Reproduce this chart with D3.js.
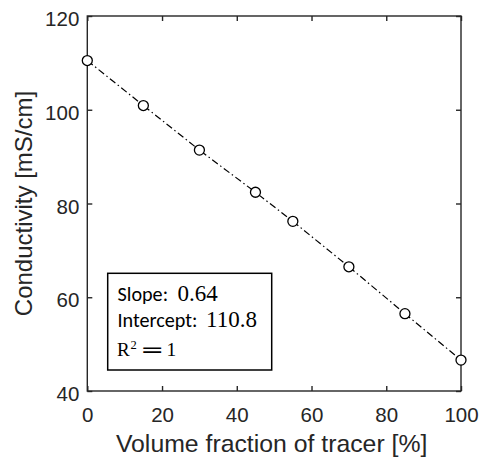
<!DOCTYPE html>
<html><head><meta charset="utf-8">
<script src="https://cdn.jsdelivr.net/npm/d3@7"></script>
<style>body{margin:0;background:#fff;} svg{display:block;}</style>
</head><body>
<script>
const volumeFraction = [0, 15, 30, 45, 55, 70, 85, 100];
const conductivity = [110.5, 100.9, 91.4, 82.4, 76.2, 66.5, 56.5, 46.6];
const xTicks = [0, 20, 40, 60, 80, 100];
const yTicks = [40, 60, 80, 100, 120];
const xLabel = "Volume fraction of tracer [%]";
const yLabel = "Conductivity [mS/cm]";
const fitSlope = "0.64", fitIntercept = "110.8", fitR2 = "1";

const W = 479, H = 460;
const m = {left: 87.3, right: 461, top: 16, bottom: 391};
const svg = d3.select("body").append("svg").attr("width", W).attr("height", H);
const x = d3.scaleLinear().domain([0, 100]).range([m.left, m.right]);
const y = d3.scaleLinear().domain([40, 120]).range([m.bottom, m.top]);
const axisColor = "#262626";
const tickFont = "'Liberation Sans', Arial, sans-serif";

svg.append("rect").attr("x", m.left).attr("y", m.top)
  .attr("width", m.right - m.left).attr("height", m.bottom - m.top)
  .attr("fill", "none").attr("stroke", axisColor).attr("stroke-width", 1.4);

function styleAxis(g){
  g.select(".domain").remove();
  g.selectAll(".tick line").attr("stroke", axisColor).attr("stroke-width", 1.4);
  g.selectAll(".tick text").attr("fill", axisColor).attr("font-family", tickFont).attr("font-size", 20.5);
}
const tl = 5;
svg.append("g").attr("transform", `translate(0,${m.bottom})`)
  .call(d3.axisBottom(x).tickValues(xTicks).tickSizeInner(-tl).tickSizeOuter(0).tickPadding(16))
  .call(styleAxis);
svg.append("g").attr("transform", `translate(0,${m.top})`)
  .call(d3.axisTop(x).tickValues(xTicks).tickSizeInner(-tl).tickSizeOuter(0).tickFormat(""))
  .call(styleAxis);
svg.append("g").attr("transform", `translate(${m.left},0)`)
  .call(d3.axisLeft(y).tickValues(yTicks).tickSizeInner(-tl).tickSizeOuter(0).tickPadding(8))
  .call(styleAxis)
  .call(g => g.selectAll(".tick text").attr("dy", "0.47em"));
svg.append("g").attr("transform", `translate(${m.right},0)`)
  .call(d3.axisRight(y).tickValues(yTicks).tickSizeInner(-tl).tickSizeOuter(0).tickFormat(""))
  .call(styleAxis);

svg.append("text").attr("x", (m.left + m.right) / 2 - 2.5).attr("y", 452)
  .attr("text-anchor", "middle").attr("font-family", tickFont).attr("font-size", 24.8)
  .attr("fill", axisColor).text(xLabel);
svg.append("text").attr("transform", `translate(32,${(m.top + m.bottom) / 2}) rotate(-90)`)
  .attr("text-anchor", "middle").attr("font-family", tickFont).attr("font-size", 24)
  .attr("fill", axisColor).text(yLabel);

const data = volumeFraction.map((v, i) => ({x: v, y: conductivity[i]}));
svg.append("path").datum(data)
  .attr("d", d3.line().x(d => x(d.x)).y(d => y(d.y)))
  .attr("fill", "none").attr("stroke", "#000").attr("stroke-width", 1.2)
  .attr("stroke-dasharray", "7,3,1.5,3");
svg.selectAll("circle.pt").data(data).enter().append("circle")
  .attr("class", "pt").attr("cx", d => x(d.x)).attr("cy", d => y(d.y)).attr("r", 5)
  .attr("fill", "#fff").attr("stroke", "#000").attr("stroke-width", 1.3);

// annotation box
svg.append("rect").attr("x", 107.7).attr("y", 273.3).attr("width", 164).attr("height", 96.7)
  .attr("fill", "#fff").attr("stroke", "#000").attr("stroke-width", 1.5);
const sansF = "Carlito, Lato, 'Open Sans', sans-serif";
const serifF = "'Liberation Serif', 'DejaVu Serif', serif";
const tx = 117.5;
const sW1 = svg.append("text").attr("x", tx).attr("y", 300.7).attr("font-family", sansF).attr("font-size", 20).attr("fill", "#000").text("Slope:");
const sW2 = svg.append("text").attr("x", tx).attr("y", 326.7).attr("font-family", sansF).attr("font-size", 20).attr("fill", "#000").text("Intercept:");
const len = sW2.node().getComputedTextLength();
const fs = Math.max(14, Math.min(24, 20 * 80 / len));
sW1.attr("font-size", fs); sW2.attr("font-size", fs);
const n1 = svg.append("text").attr("x", 177.5).attr("y", 300.7).attr("font-family", serifF).attr("font-size", 22).attr("fill", "#000").text(fitSlope);
const n2 = svg.append("text").attr("x", 206).attr("y", 326.7).attr("font-family", serifF).attr("font-size", 22).attr("fill", "#000").text(fitIntercept);
// fit numeric widths to reference (0.64 ≈ 41px, 110.8 ≈ 51px)
const l2 = n2.node().getComputedTextLength();
const ns = Math.max(16, Math.min(26, 22 * 51 / l2));
n1.attr("font-size", ns); n2.attr("font-size", ns);
// R^2 = 1
svg.append("text").attr("x", 117).attr("y", 355.7).attr("font-size", 19).attr("fill", "#000").attr("font-family", serifF).text("R");
svg.append("text").attr("x", 130.5).attr("y", 349.2).attr("font-size", 12.5).attr("fill", "#000").attr("font-family", serifF).text("2");
svg.append("text").attr("transform", "translate(140.3,356) scale(1.5,1)")
  .attr("font-family", "'DejaVu Sans', sans-serif").attr("font-size", 19).attr("fill", "#000").text("=");
svg.append("text").attr("x", 166.5).attr("y", 355.7).attr("font-family", serifF).attr("font-size", 19.5).attr("fill", "#000").text(fitR2);
</script>
</body></html>
